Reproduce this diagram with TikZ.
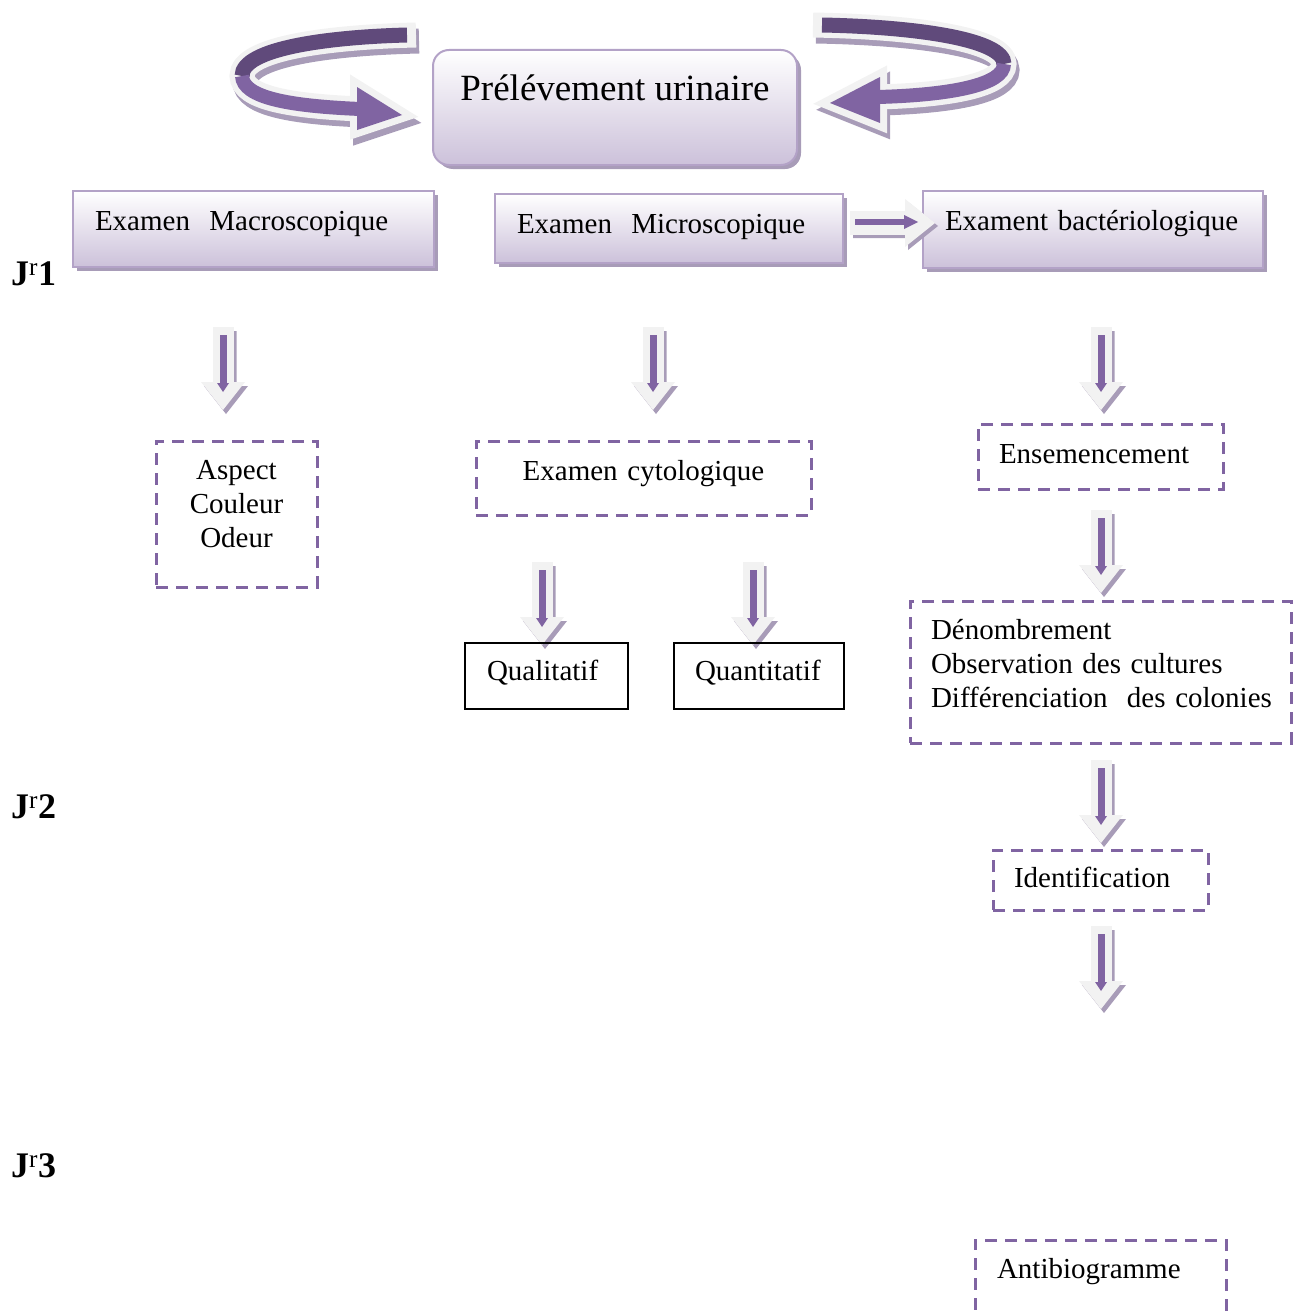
\documentclass[tikz,border=0pt]{standalone}
\usepackage{fontspec}
\setmainfont{Liberation Serif}
\usetikzlibrary{shadows}
\definecolor{pdark}{HTML}{604A7B}
\definecolor{pmid}{HTML}{8064A2}
\definecolor{plight}{HTML}{CCC1DA}
\definecolor{pborder}{HTML}{B3A2C7}
\definecolor{pshadow}{HTML}{A89CB8}
\definecolor{awhite}{HTML}{F2F2F2}
\begin{document}
\begin{tikzpicture}[x=1pt,y=-1pt,
  tx/.style={font=\fontsize{29}{34}\selectfont, inner ysep=0pt},
  jlab/.style={font=\fontsize{36}{38}\selectfont\bfseries, anchor=base west, inner sep=0pt},
  gbox/.style={draw=pborder, line width=2pt, top color=white, bottom color=plight,
    drop shadow={shadow xshift=4pt, shadow yshift=-4pt, fill=pshadow, opacity=1}, align=left},
  dbox/.style={draw=pmid, line width=3pt, dash pattern=on 12pt off 8pt, align=left},
  sbox/.style={draw=black, line width=1.5pt, align=left},
  downarrow/.pic={
    \fill[pshadow] (-7.5,4) rectangle (13.5,59) (-19,59) -- (25,59) -- (3,87) -- cycle;
    \fill[awhite] (-10.5,0) rectangle (10.5,55);
    \fill[awhite] (-22,55) -- (22,55) -- (0,83) -- cycle;
    \draw[pmid, line width=7pt] (0,8) -- (0,58);
    \fill[pmid] (-6,56) -- (6,56) -- (0,65) -- cycle;
  }]
\clip (0,0) rectangle (1302,1314);
\useasboundingbox (0,0) rectangle (1302,1314);

% ---- left curved arrow ----
\begin{scope}[shift={(3,6)}]
  \draw[pshadow, line width=25pt] (416,35) .. controls (330,37) and (242,48) .. (242,76) .. controls (243,98) and (290,106) .. (360,109);
  \filldraw[pshadow, line width=14pt, line join=miter] (357,87) -- (402,115) -- (357,130) -- cycle;
\end{scope}
\draw[awhite, line width=25pt] (416,35) .. controls (330,37) and (242,48) .. (242,76) .. controls (243,98) and (290,106) .. (360,109);
\filldraw[awhite, line width=14pt, line join=miter] (357,87) -- (402,115) -- (357,130) -- cycle;
\draw[pdark, line width=15pt] (407,35) .. controls (330,37) and (242,48) .. (242,76);
\draw[pmid, line width=14pt] (242,76) .. controls (243,98) and (290,106) .. (360,109);
\fill[pmid] (357,87) -- (402,115) -- (357,130) -- cycle;

% ---- right curved arrow ----
\begin{scope}[shift={(3,6)}]
  \draw[pshadow, line width=25pt] (813,25) .. controls (920,27) and (1004,40) .. (1004,64) .. controls (1004,85) and (950,95) .. (878,97);
  \filldraw[pshadow, line width=14pt, line join=miter] (880,77) -- (830,103) -- (880,123) -- cycle;
\end{scope}
\draw[awhite, line width=25pt] (813,25) .. controls (920,27) and (1004,40) .. (1004,64) .. controls (1004,85) and (950,95) .. (878,97);
\filldraw[awhite, line width=14pt, line join=miter] (880,77) -- (830,103) -- (880,123) -- cycle;
\draw[pdark, line width=15pt] (822,25) .. controls (920,27) and (1004,40) .. (1004,64);
\draw[pmid, line width=14pt] (1004,64) .. controls (1004,85) and (950,95) .. (878,97);
\fill[pmid] (880,77) -- (830,103) -- (880,123) -- cycle;

% ---- main boxes ----
\node[gbox, rounded corners=16pt, align=center, font=\fontsize{37}{40}\selectfont,
  minimum width=364pt, minimum height=115pt, inner sep=0pt, text height=20pt, text depth=35pt]
  (prel) at (615,107.5) {Prélévement urinaire};
\node[gbox, tx, text width=317pt, inner xsep=22pt, minimum height=76pt, text height=16pt, text depth=14pt]
  (macro) at (253.5,229) {\mbox{Examen~ Macroscopique}};
\node[gbox, tx, text width=304pt, inner xsep=22pt, minimum height=69pt, text height=20pt, text depth=11pt]
  (micro) at (669,228.5) {\mbox{Examen~ Microscopique}};
\node[gbox, tx, text width=296pt, inner xsep=22pt, minimum height=77pt, text height=16pt, text depth=15pt]
  (bact) at (1093,229.5) {\mbox{Exament bactériologique}};

% ---- horizontal block arrow micro -> bact ----
\fill[pshadow] (853,214) rectangle (908,238) (908,202) -- (938,226) -- (908,250) -- cycle;
\fill[awhite] (850,211) rectangle (905,235);
\fill[awhite] (905,199) -- (935,223) -- (905,247) -- cycle;
\draw[pmid, line width=6pt] (855,222) -- (906,222);
\fill[pmid] (904,215) -- (918,222) -- (904,229) -- cycle;

% ---- day labels ----
\node[jlab] (j1) at (11,285) {J\textsuperscript{\mdseries r}1};
\node[jlab] (j2) at (11,818) {J\textsuperscript{\mdseries r}2};
\node[jlab] (j3) at (11,1177) {J\textsuperscript{\mdseries r}3};

% ---- down arrows ----
\pic (da1) at (223,327) {downarrow};
\pic (da2) at (653,327) {downarrow};
\pic (da3) at (1101,327) {downarrow};
\pic (da4) at (1101,510) {downarrow};
\pic (da5) at (1101,760) {downarrow};
\pic (da6) at (1101,926) {downarrow};
\pic (da7) at (542,562) {downarrow};
\pic (da8) at (753,562) {downarrow};

% ---- dashed boxes ----
\node[dbox, tx, align=center, text width=141pt, inner xsep=10pt, minimum height=146pt, text height=10pt, text depth=80pt]
  (aspect) at (236.5,514) {Aspect\\Couleur\\Odeur};
\node[dbox, tx, align=center, text width=315pt, inner xsep=10pt, minimum height=74pt, text height=16pt, text depth=12pt]
  (cyto) at (643.5,478) {Examen cytologique};
\node[dbox, tx, text width=203pt, inner xsep=21pt, minimum height=65pt, text height=20pt, text depth=7pt]
  (ensem) at (1100.5,456.5) {\mbox{Ensemencement}};
\node[dbox, tx, text width=339pt, inner xsep=21pt, minimum height=142pt, text height=10pt, text depth=76pt]
  (denomb) at (1100.5,672) {Dénombrement\\Observation des cultures\\\mbox{Différenciation~ des colonies}};
\node[dbox, tx, text width=173pt, inner xsep=21pt, minimum height=60pt, text height=20pt, text depth=6pt]
  (ident) at (1100.5,880) {\mbox{Identification}};
\node[dbox, tx, text width=207pt, inner xsep=22pt, minimum height=80pt, text height=14pt, text depth=18pt]
  (antibio) at (1100.5,1280) {\mbox{Antibiogramme}};

% ---- solid boxes ----
\node[sbox, tx, text width=119pt, inner xsep=22pt, minimum height=66pt, text height=18pt, text depth=10pt]
  (quali) at (546.5,676) {\mbox{Qualitatif}};
\node[sbox, tx, text width=128pt, inner xsep=21pt, minimum height=66pt, text height=18pt, text depth=10pt]
  (quanti) at (759,676) {\mbox{Quantitatif}};
\end{tikzpicture}
\end{document}
